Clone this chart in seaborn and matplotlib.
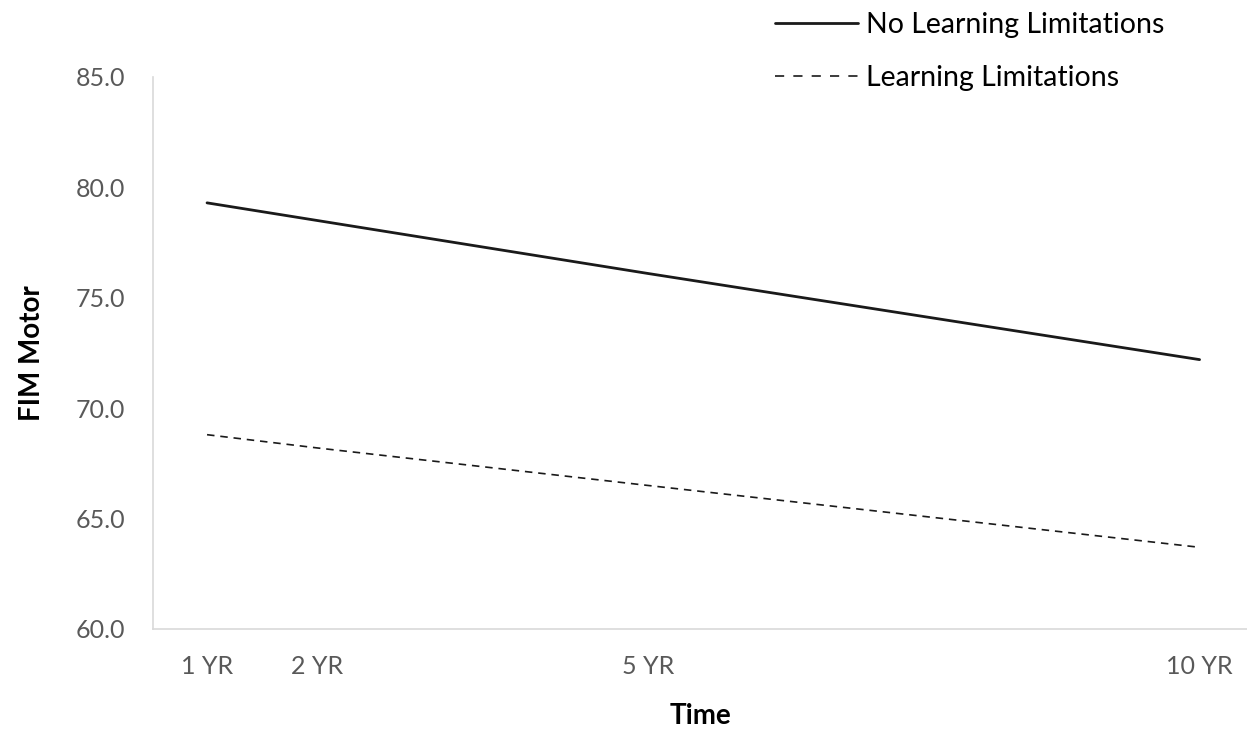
import matplotlib
matplotlib.use("Agg")
import matplotlib.pyplot as plt
import pandas as pd
import seaborn as sns

years = [1, 2, 5, 10]
tick_labels = ["1 YR", "2 YR", "5 YR", "10 YR"]
no_limits = [79.3, 78.5, 76.1, 72.2]
limits = [68.8, 68.2, 66.5, 63.7]


def plot():
    sns.set_theme(style="white")
    plt.rcParams["font.family"] = ["Lato", "DejaVu Sans"]

    df_no = pd.DataFrame({"year": years, "score": no_limits})
    df_lim = pd.DataFrame({"year": years, "score": limits})

    fig = plt.figure(figsize=(12.47, 7.31), dpi=100)
    ax = fig.add_axes([153 / 1247, (731 - 629) / 731, (1247 - 153) / 1247, (629 - 77) / 731])

    sns.lineplot(ax=ax, data=df_no, x="year", y="score", color="#1a1a1a",
                 linewidth=2.0, label="No Learning Limitations")
    sns.lineplot(ax=ax, data=df_lim, x="year", y="score", color="#1a1a1a",
                 linewidth=1.2, linestyle=(0, (4.5, 3.5)), label="Learning Limitations")

    ax.set_xlim(0.51, 10.43)
    ax.set_ylim(60, 85)
    ax.set_xticks(years)
    ax.set_xticklabels(tick_labels)
    ax.set_yticks([60, 65, 70, 75, 80, 85])
    ax.set_yticklabels([f"{v:.1f}" for v in [60, 65, 70, 75, 80, 85]])
    ax.tick_params(axis="both", colors="#595959", labelsize=18, length=0)
    ax.tick_params(axis="x", pad=19)
    ax.tick_params(axis="y", pad=20)

    for side in ["top", "right"]:
        ax.spines[side].set_visible(False)
    for side in ["left", "bottom"]:
        ax.spines[side].set_color("#d9d9d9")
        ax.spines[side].set_linewidth(1.2)

    ax.set_xlabel("Time", fontsize=20, fontweight="bold", color="black", labelpad=18)
    ax.set_ylabel("FIM Motor", fontsize=20, fontweight="bold", color="black", labelpad=22)

    leg = ax.legend(loc="upper left", bbox_to_anchor=(775 / 1247, 1 - 12 / 731),
                    bbox_transform=fig.transFigure, frameon=False, fontsize=20.5,
                    borderpad=0, borderaxespad=0,
                    handlelength=2.9, handletextpad=0.3, labelspacing=0.95)
    for t in leg.get_texts():
        t.set_color("black")
    leg.get_lines()[1].set_dashes((5.5, 5.5))

    plt.savefig("out.png", dpi=100)


if __name__ == '__main__':
    plot()
